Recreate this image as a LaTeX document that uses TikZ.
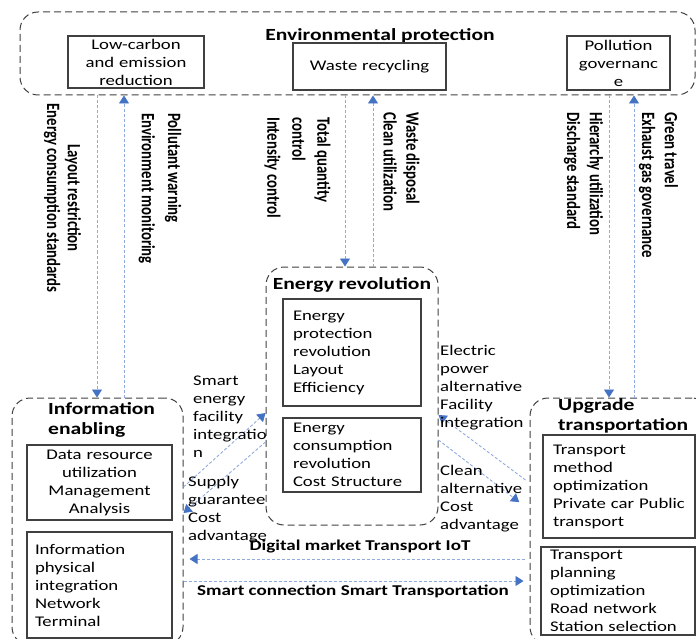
\documentclass[tikz,border=0pt]{standalone}
\usepackage{fontspec}
\setmainfont{Carlito}[FakeStretch=1.27]
\newfontfamily\rotf{Carlito}
\usetikzlibrary{arrows.meta}
\definecolor{lblue}{HTML}{8FAADC}
\definecolor{hblue}{HTML}{4472C4}
\definecolor{dgray}{HTML}{404040}
\tikzset{
 cont/.style={draw=dgray, line width=1pt, dash pattern=on 7pt off 4pt, rounded corners=18pt, inner sep=0pt},
 ibox/.style={draw=dgray, line width=1.1pt, inner sep=0pt},
 txt/.style={font=\fontsize{14.75}{18}\selectfont, inner sep=0pt},
 ttl/.style={font=\fontsize{17}{20}\selectfont\bfseries, inner sep=0pt},
 hlab/.style={font=\fontsize{15}{18}\selectfont\bfseries, inner sep=0pt},
 rlab/.style={font=\rotf\bfseries\fontsize{14.8}{18}\selectfont, inner sep=0pt, rotate=-90, yscale=1.27, align=left, anchor=west},
 arr/.style={draw=lblue, line width=0.9pt, dash pattern=on 3pt off 2pt, -{Triangle[length=8pt,width=10pt,color=hblue]}},
}
\begin{document}
\begin{tikzpicture}[x=1pt,y=-1pt]
\useasboundingbox (0,0) rectangle (696,639);
% containers
\node[cont, minimum width=675pt, minimum height=83pt] (env) at (357.5,53.5) {};
\node[cont, minimum width=171pt, minimum height=247pt] (ie) at (97.5,521.5) {};
\node[cont, minimum width=172pt, minimum height=258pt] (er) at (352,396) {};
\node[cont, minimum width=180pt, minimum height=247pt] (up) at (620,521.5) {};
% titles
\node[ttl] (envt) at (380,36) {Environmental protection};
\node[ttl, align=left, anchor=west] (iet) at (48,420) {Information\\enabling};
\node[ttl] (ert) at (352,285) {Energy revolution};
\node[ttl, align=left, anchor=west] (upt) at (558,415.5) {Upgrade\\transportation};
% top boxes
\node[ibox, txt, minimum width=136pt, minimum height=52pt, text width=136pt, align=center] (lc) at (136,62) {Low-carbon\\and emission\\reduction};
\node[ibox, txt, minimum width=153pt, minimum height=47pt, text width=153pt, align=center] (wr) at (369.5,66.5) {Waste recycling};
\node[ibox, txt, minimum width=103pt, minimum height=54pt, text width=103pt, align=center] (pg) at (618.5,63) {Pollution\\governanc\\e};
% info boxes
\node[ibox, txt, minimum width=145pt, minimum height=75pt, text width=145pt, align=center] (dr) at (99.5,482.5) {Data resource\\utilization\\Management\\Analysis};
\node[ibox, txt, minimum width=145pt, minimum height=106pt, text width=129pt, inner xsep=8pt, align=left] (ip) at (99.5,585) {Information\\physical\\integration\\Network\\Terminal};
% energy boxes
\node[ibox, txt, minimum width=138pt, minimum height=107pt, text width=128pt, inner xsep=5pt, align=left] (ep) at (352,352.5) {\hspace*{5pt}Energy\\\hspace*{5pt}protection\\\hspace*{5pt}revolution\\\hspace*{5pt}Layout\\\hspace*{5pt}Efficiency};
\node[ibox, txt, minimum width=138pt, minimum height=74pt, text width=128pt, inner xsep=5pt, align=left] (ec) at (352,455) {\hspace*{5pt}Energy\\\hspace*{5pt}consumption\\\hspace*{5pt}revolution\\\hspace*{5pt}Cost Structure};
% transport boxes
\node[ibox, txt, minimum width=152pt, minimum height=103pt, text width=142pt, inner xsep=5pt, align=left] (tm) at (619,486.5) {\hspace*{5pt}Transport\\\hspace*{5pt}method\\\hspace*{5pt}optimization\\\hspace*{5pt}Private car Public\\\hspace*{5pt}transport};
\node[ibox, txt, minimum width=154pt, minimum height=88pt, text width=146pt, inner xsep=4pt, align=left] (tp) at (618,591) {\hspace*{5pt}Transport\\\hspace*{5pt}planning\\\hspace*{5pt}optimization\\\hspace*{5pt}Road network\\\hspace*{5pt}Station selection};
% vertical arrows
\draw[arr] (97,0 |- env.south) -- (97,0 |- ie.north);
\draw[arr] (124,0 |- ie.north) -- (124,0 |- env.south);
\draw[arr] (345,0 |- env.south) -- (345,0 |- er.north);
\draw[arr] (373,0 |- er.north) -- (373,0 |- env.south);
\draw[arr] (609,0 |- env.south) -- (609,0 |- up.north);
\draw[arr] (634,0 |- up.north) -- (634,0 |- env.south);
% rotated labels
\node[rlab, align=center, anchor=center, font=\rotf\bfseries\fontsize{14.8}{16.5}\selectfont] (l1) at (62.5,198) {Layout restriction\\Energy consumption standards};
\node[rlab, font=\rotf\bfseries\fontsize{14.8}{20.5}\selectfont] (l2) at (160,113) {Pollutant warning\\Environment monitoring};
\node[rlab, font=\rotf\bfseries\fontsize{14.8}{19.7}\selectfont] (l3) at (297.5,117) {Total quantity\\control\\Intensity control};
\node[rlab] (l4) at (401.5,112) {Waste disposal\\Clean utilization};
\node[rlab] (l5) at (583.5,112) {Hierarchy utilization\\Discharge standard};
\node[rlab] (l6) at (658.5,112) {Green travel\\Exhaust gas governance};
% diagonal arrows
\draw[arr] (ie.east |- 0,487) -- (er.west |- 0,413);
\draw[arr] (er.west |- 0,442) -- (ie.east |- 0,513);
\draw[arr, shorten <=5pt] (up.west |- 0,483) -- (er.east |- 0,415);
\draw[arr, shorten >=13pt] (er.east |- 0,440) -- (up.west |- 0,510);
% side labels
\node[txt, align=left, anchor=west] (s1) at (193,416.5) {Smart\\energy\\facility\\integratio\\n};
\node[txt, align=left, anchor=west] (s2) at (188,510) {Supply\\guarantee\\Cost\\advantage};
\node[txt, align=left, anchor=west] (s3) at (440,388) {Electric\\power\\alternative\\Facility\\integration};
\node[txt, align=left, anchor=west] (s4) at (440,499) {Clean\\alternative\\Cost\\advantage};
% horizontal arrows
\draw[arr, shorten <=5pt, shorten >=6pt] (up.west |- 0,559) -- (ie.east |- 0,559);
\draw[arr, shorten >=6pt] (ie.east |- 0,581) -- (up.west |- 0,581);
\node[hlab] (h1) at (360,547) {Digital market Transport IoT};
\node[hlab] (h2) at (353,591) {Smart connection Smart Transportation};
\end{tikzpicture}
\end{document}
